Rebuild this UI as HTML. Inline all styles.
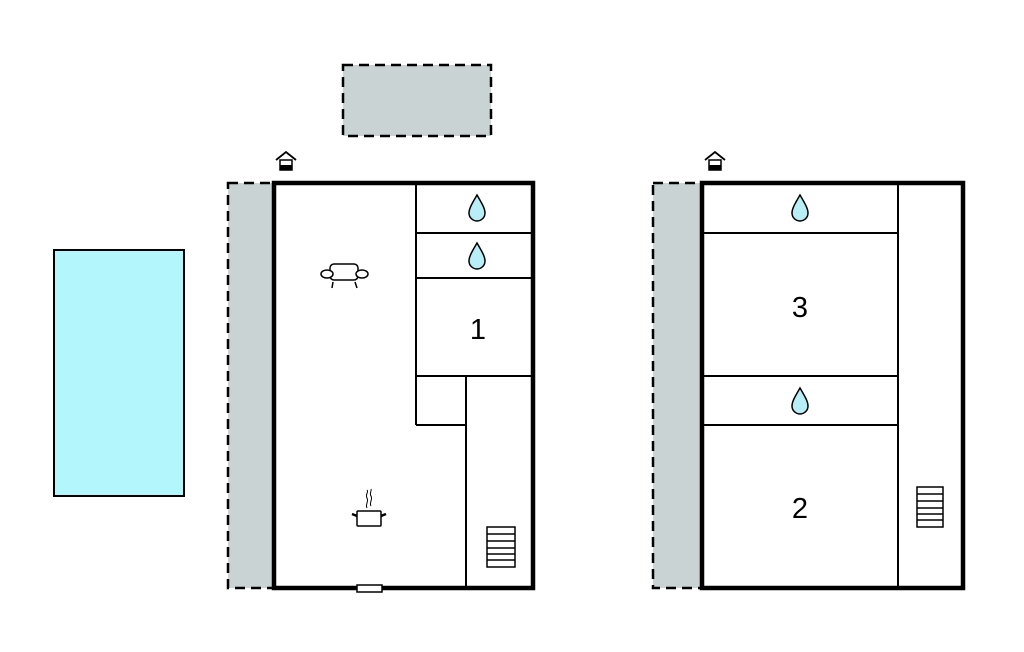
<!DOCTYPE html>
<html><head><meta charset="utf-8"><style>html,body{margin:0;padding:0;background:#fff}svg{display:block}</style></head>
<body>
<svg width="1024" height="652" viewBox="0 0 1024 652" xmlns="http://www.w3.org/2000/svg">
<defs>
<path id="drop" d="M0,-13 C4,-6 8,0 8,5 A8,8 0 0 1 -8,5 C-8,0 -4,-6 0,-13Z" fill="#b8eef5" stroke="#000" stroke-width="1.5"/>
<g id="house"><path d="M-10,-3 L0,-11 L10,-3" fill="none" stroke="#000" stroke-width="1.8"/><rect x="-6" y="-3" width="12" height="10" fill="#fff" stroke="#000" stroke-width="1.5"/><rect x="-6" y="2" width="12" height="5" fill="#000"/></g>
</defs>
<rect x="54" y="250" width="130" height="246" fill="#b3f7fc" stroke="#000" stroke-width="2"/>
<rect x="343" y="65" width="148" height="71" fill="#c9d3d4" stroke="#000" stroke-width="2.5" stroke-dasharray="10,6"/>
<rect x="228" y="183" width="46" height="405" fill="#c9d3d4" stroke="#000" stroke-width="2.5" stroke-dasharray="10,6"/>
<rect x="653" y="183" width="49" height="405" fill="#c9d3d4" stroke="#000" stroke-width="2.5" stroke-dasharray="10,6"/>
<rect x="274" y="183" width="259" height="405" fill="#fff" stroke="#000" stroke-width="4.5"/>
<g stroke="#000" stroke-width="2" fill="none">
<line x1="416" y1="183" x2="416" y2="425"/>
<line x1="416" y1="233" x2="533" y2="233"/>
<line x1="416" y1="278" x2="533" y2="278"/>
<line x1="416" y1="376" x2="533" y2="376"/>
<line x1="416" y1="425" x2="466" y2="425"/>
<line x1="466" y1="376" x2="466" y2="588"/>
</g>
<rect x="357" y="585" width="25" height="7" fill="#fff" stroke="#000" stroke-width="1.5"/>
<g stroke="#000" stroke-width="1.5" fill="#fff"><rect x="487" y="527" width="28" height="40"/>
<line x1="487" y1="534" x2="515" y2="534"/><line x1="487" y1="541" x2="515" y2="541"/><line x1="487" y1="548" x2="515" y2="548"/><line x1="487" y1="554" x2="515" y2="554"/><line x1="487" y1="560" x2="515" y2="560"/></g>
<use href="#drop" x="477" y="208"/><use href="#drop" x="477" y="256"/>
<text x="478" y="339" font-family="Liberation Sans, sans-serif" font-size="29" text-anchor="middle">1</text>
<use href="#house" x="286" y="163"/>
<g stroke="#000" stroke-width="1.5" fill="#fff">
<rect x="330" y="264" width="28" height="16" rx="4"/>
<ellipse cx="327" cy="274" rx="6" ry="4"/><ellipse cx="362" cy="274" rx="6" ry="4"/>
<line x1="333" y1="282" x2="332" y2="288"/><line x1="355" y1="282" x2="357" y2="288"/>
</g>
<g stroke="#000" stroke-width="1.5" fill="#fff">
<rect x="357" y="511" width="24" height="15" rx="1"/>
<line x1="352" y1="514" x2="357" y2="516" stroke-width="2.5"/><line x1="386" y1="514" x2="381" y2="516" stroke-width="2.5"/>
<path d="M367,508 c-2,-4 2,-6 0,-10 c-2,-4 2,-6 0,-8 M371,506 c-2,-4 2,-6 0,-10 c-2,-3 1,-5 0,-7" fill="none" stroke-width="1"/>
</g>
<rect x="702" y="183" width="261" height="405" fill="#fff" stroke="#000" stroke-width="4.5"/>
<g stroke="#000" stroke-width="2" fill="none">
<line x1="898" y1="183" x2="898" y2="588"/>
<line x1="702" y1="233" x2="898" y2="233"/>
<line x1="702" y1="376" x2="898" y2="376"/>
<line x1="702" y1="425" x2="898" y2="425"/>
</g>
<g stroke="#000" stroke-width="1.5" fill="#fff"><rect x="917" y="487" width="26" height="40"/>
<line x1="917" y1="494" x2="943" y2="494"/><line x1="917" y1="501" x2="943" y2="501"/><line x1="917" y1="508" x2="943" y2="508"/><line x1="917" y1="514" x2="943" y2="514"/><line x1="917" y1="520" x2="943" y2="520"/></g>
<use href="#drop" x="800" y="208"/><use href="#drop" x="800" y="401"/>
<text x="800" y="317" font-family="Liberation Sans, sans-serif" font-size="29" text-anchor="middle">3</text>
<text x="800" y="518" font-family="Liberation Sans, sans-serif" font-size="29" text-anchor="middle">2</text>
<use href="#house" x="715" y="163"/>
</svg>
</body></html>
